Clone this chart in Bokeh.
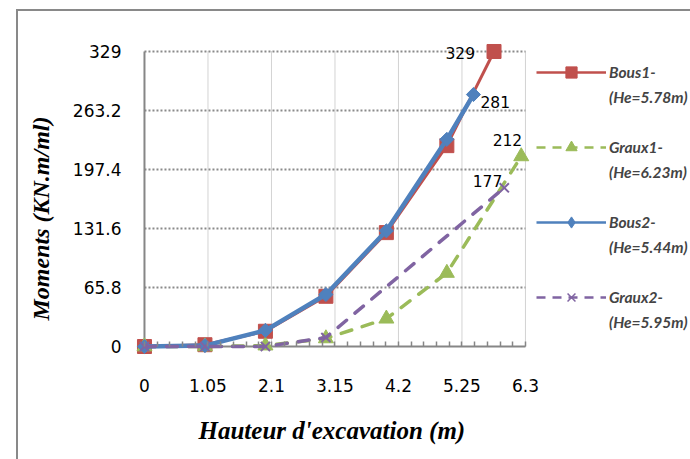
import math
from bokeh.plotting import figure
from bokeh.models import Range1d, FixedTicker, Legend, LegendItem, Title, LinearAxis
from bokeh.core.properties import value
from bokeh.embed import file_html
from bokeh.resources import INLINE

# ---- data ----
x_ticks = [0, 1.05, 2.1, 3.15, 4.2, 5.25, 6.3]
x_tick_labels = ["0", "1.05", "2.1", "3.15", "4.2", "5.25", "6.3"]
y_ticks = [0, 65.8, 131.6, 197.4, 263.2, 329]
y_tick_labels = ["0", "65.8", "131.6", "197.4", "263.2", "329"]

bous1_x = [0, 1, 2, 3, 4, 5, 5.78]
bous1_y = [0, 2, 17, 56, 127, 224, 329]
graux1_x = [0, 1, 2, 3, 4, 5, 6.23]
graux1_y = [0, 0, 1, 9, 31, 82, 212]
bous2_x = [0, 1, 2, 3, 4, 5, 5.44]
bous2_y = [0, 1, 18, 58, 129, 231, 281]
graux2_x = [0, 1, 2, 3, 5.95]
graux2_y = [0, 0, 0, 10, 177]

series_names = ["Bous1-", "Graux1-", "Bous2-", "Graux2-"]
series_he = ["(He=5.78m)", "(He=6.23m)", "(He=5.44m)", "(He=5.95m)"]

x_title = "Hauteur  d'excavation (m)"
y_title = "Moments (KN.m/ml)"

RED, GREEN, BLUE, PURPLE = "#C0504D", "#9BBB59", "#4F81BD", "#8064A2"
AXIS_GREY = "#868686"
NUM_FONT = "DejaVu Sans"
NAN = float("nan")

p = figure(width=690, height=459,
           x_range=Range1d(-0.198, 9.029), y_range=Range1d(-11.15, 344.6),
           output_backend="svg", toolbar_location=None,
           min_border_left=132, min_border_right=0,
           min_border_top=37, min_border_bottom=103)
p.grid.visible = False
p.outline_line_color = None
p.background_fill_color = "white"
p.border_fill_alpha = 0
p.styles = {
    "background-color": "white",
    "background-image": "linear-gradient(#898989,#898989), linear-gradient(#898989,#898989)",
    "background-position": "16px 9px, 16px 9px",
    "background-size": "2px 100%, 100% 2px",
    "background-repeat": "no-repeat, no-repeat",
}

# ---- grid lines (dotted) ----
ny = len(y_ticks) - 1
p.segment(x0=[x_ticks[0]] * ny, y0=y_ticks[1:], x1=[x_ticks[-1]] * ny, y1=y_ticks[1:],
          line_color="#8a8a8a", line_width=2, line_dash="2 2")
nx = len(x_ticks) - 1
p.segment(x0=x_ticks[1:], y0=[y_ticks[0]] * nx, x1=x_ticks[1:], y1=[y_ticks[-1]] * nx,
          line_color="#a6a6a6", line_width=1, line_dash="1 1")
# axis lines
p.segment(x0=[x_ticks[0], x_ticks[0]], y0=[y_ticks[0], y_ticks[0]],
          x1=[x_ticks[-1], x_ticks[0]], y1=[y_ticks[0], y_ticks[-1]],
          line_color=AXIS_GREY, line_width=2)

# ---- axes ----
step = (x_ticks[1] - x_ticks[0]) / 5
minor = [round(k * step, 4) for k in range(int(round(x_ticks[-1] / step)) + 1)]
xa = p.xaxis[0]
xa.ticker = FixedTicker(ticks=x_ticks, minor_ticks=minor)
xa.major_label_overrides = dict(zip(x_ticks, x_tick_labels))
xa.axis_line_color = None
xa.major_tick_in = 0
xa.major_tick_out = 0
xa.minor_tick_in = 15
xa.minor_tick_out = -10
xa.minor_tick_line_color = AXIS_GREY
xa.minor_tick_line_width = 1.5
xa.major_label_standoff = 22
xa.major_label_text_font = NUM_FONT
xa.major_label_text_font_size = "17px"
xa.major_label_text_color = "black"

ya = p.yaxis[0]
ya.ticker = FixedTicker(ticks=y_ticks, minor_ticks=[])
ya.major_label_overrides = dict(zip(y_ticks, y_tick_labels))
ya.axis_line_color = None
ya.major_tick_in = 0
ya.major_tick_out = 0
ya.minor_tick_in = 0
ya.minor_tick_out = 0
ya.major_label_standoff = 11
ya.major_label_text_font = NUM_FONT
ya.major_label_text_font_size = "17px"
ya.major_label_text_color = "black"

# x title: centred under the 0..6.3 span (second, tick-less axis)
title_pos = (x_ticks[0] + x_ticks[-1]) / 2
ta = LinearAxis(ticker=FixedTicker(ticks=[title_pos], minor_ticks=[]),
                major_label_overrides={title_pos: x_title},
                axis_line_color=None, major_tick_line_color=None, minor_tick_line_color=None,
                major_tick_in=0, major_tick_out=0, minor_tick_in=0, minor_tick_out=0,
                major_label_standoff=22, major_label_text_font="Liberation Serif",
                major_label_text_font_style="bold italic", major_label_text_font_size="25px",
                major_label_text_color="black")
p.add_layout(ta, "below")

p.add_layout(Title(text=y_title, align="left", offset=36, standoff=32,
                   text_font="Liberation Serif", text_font_style="bold italic",
                   text_font_size="24px", text_color="black"), "left")

# ---- series ----
p.line(bous1_x, bous1_y, line_color=RED, line_width=3)
p.scatter(bous1_x, bous1_y, marker="square", size=14, fill_color=RED, line_color=RED)
p.line(graux1_x, graux1_y, line_color=GREEN, line_width=3.5, line_dash="11 11", line_cap="round")
p.scatter(graux1_x, graux1_y, marker="triangle", size=15, fill_color=GREEN, line_color=GREEN)
p.line(bous2_x, bous2_y, line_color=BLUE, line_width=4.5)
p.scatter(bous2_x, bous2_y, marker="square", angle=math.pi / 4, size=10, fill_color=BLUE, line_color=BLUE)
p.line(graux2_x, graux2_y, line_color=PURPLE, line_width=3.5, line_dash="11 11", line_cap="round")
p.scatter(graux2_x, graux2_y, marker="x", size=13, line_color=PURPLE, line_width=2)

# ---- data labels ----
def lab(xs, ys, align, dx, dy):
    p.text(x=[xs[-1]], y=[ys[-1]], text=[str(int(ys[-1]))],
           text_font=value(NUM_FONT), text_font_size=value("15.5px"), text_color="black",
           text_align=align, text_baseline="middle", x_offset=dx, y_offset=dy)

lab(bous1_x, bous1_y, "right", -19, 2)
lab(bous2_x, bous2_y, "left", 7, 7)
lab(graux1_x, graux1_y, "right", 1, -16)
lab(graux2_x, graux2_y, "right", -2, -7)

# ---- legend glyph proxies (nothing drawn in the plot, legend styling only) ----
def proxy(color, marker, dash, mwidth=1):
    ln = p.line(x=[NAN], y=[NAN], line_color=color, line_width=2.5, line_dash=dash)
    mk = p.scatter(x=[NAN], y=[NAN], marker=marker, fill_color=color, line_color=color,
                   line_width=mwidth)
    return [ln, mk]

pr1 = proxy(RED, "square", "solid")
pr2 = proxy(GREEN, "triangle", "9 7")
pr3 = proxy(BLUE, "diamond", "solid")
pr4 = proxy(PURPLE, "x", "9 7", 1.5)
dummy = p.line(x=[NAN], y=[NAN], line_alpha=0)

common = dict(glyph_width=70, label_standoff=3, padding=0, margin=0,
              border_line_color=None, background_fill_alpha=0,
              label_text_font="Lato", label_text_font_style="bold italic",
              label_text_font_size="15.5px")
legA = Legend(items=[LegendItem(label=value(series_names[i]), renderers=r)
                     for i, r in enumerate([pr1, pr2, pr3, pr4])],
              location=(404, 45), glyph_height=28, spacing=47, **common)
legB = Legend(items=[LegendItem(label=value(t), renderers=[dummy]) for t in series_he],
              location=(404, 24), glyph_height=20, spacing=55, **common)
p.add_layout(legA)
p.add_layout(legB)

open("out.html", "w").write(file_html(p, INLINE))
